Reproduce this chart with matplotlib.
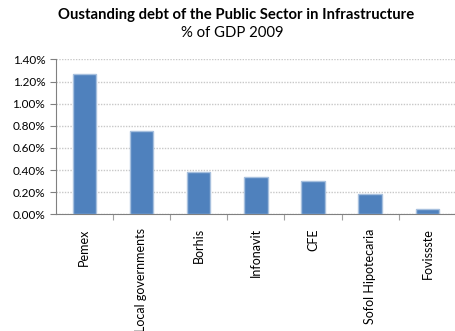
import matplotlib
matplotlib.use('Agg')
import matplotlib.pyplot as plt
from matplotlib.ticker import FuncFormatter

categories = ['Pemex', 'Local governments', 'Borhis', 'Infonavit', 'CFE',
              'Sofol Hipotecaria', 'Fovissste']
debt_pct = [1.27, 0.755, 0.385, 0.34, 0.298, 0.18, 0.05]
y_ticks = [0.0, 0.2, 0.4, 0.6, 0.8, 1.0, 1.2, 1.4]

plt.rcParams['font.family'] = ['Lato', 'DejaVu Sans']

fig = plt.figure(figsize=(4.56, 3.31), dpi=100)
ax = fig.add_axes([0.122, 0.3526, 0.878, 0.468])

ax.bar(range(len(categories)), debt_pct, width=0.41, color='#4F81BD',
       edgecolor='#A7C0DE', linewidth=1.0, zorder=3)

ax.set_xlim(-0.5, 6.4)
ax.set_ylim(0, 1.4)
ax.set_yticks(y_ticks)
ax.yaxis.set_major_formatter(FuncFormatter(lambda v, p: '%.2f%%' % v))
ax.yaxis.grid(True, linestyle=(0, (1, 1)), color='#C8C8C8', linewidth=1.0, zorder=0)

ax.set_xticks([i + 0.5 for i in range(len(categories))])
ax.set_xticklabels([])
ax.set_xticks(range(len(categories)), minor=True)
ax.set_xticklabels(categories, minor=True, rotation=90, fontsize=9)
ax.tick_params(axis='x', which='minor', length=0, pad=10)
ax.tick_params(axis='x', which='major', length=4, direction='out', color='#A0A0A0')
ax.tick_params(axis='y', length=4, direction='out', color='#808080', labelsize=8.5)

for s in ['top', 'right']:
    ax.spines[s].set_visible(False)
ax.spines['left'].set_color('#808080')
ax.spines['bottom'].set_color('#808080')

fig.text(0.518, 0.955, 'Oustanding debt of the Public Sector in Infrastructure',
         ha='center', va='center', fontsize=10.7, fontweight='bold')
fig.text(0.509, 0.9, '% of GDP 2009', ha='center', va='center', fontsize=10.7)

fig.savefig('out.png', dpi=100)
